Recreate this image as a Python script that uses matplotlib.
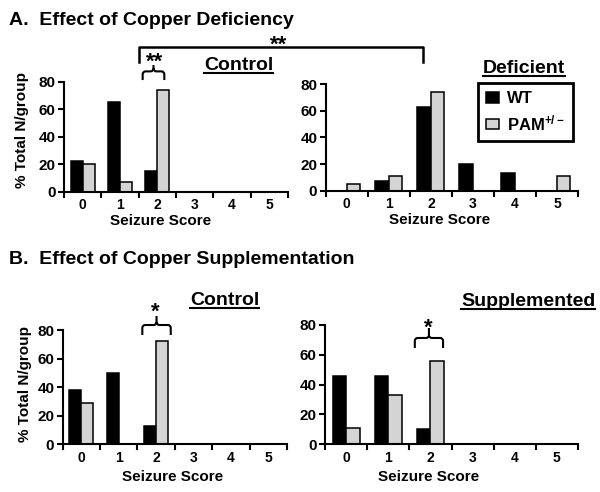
import numpy as np
import matplotlib
matplotlib.use('Agg')
import matplotlib.pyplot as plt
from matplotlib.lines import Line2D
from matplotlib.path import Path
from matplotlib.patches import PathPatch

plt.rcParams['font.family'] = ['Liberation Sans', 'DejaVu Sans']
plt.rcParams['font.weight'] = 'bold'
plt.rcParams['mathtext.fontset'] = 'custom'
plt.rcParams['mathtext.rm'] = 'Liberation Sans:bold'
plt.rcParams['mathtext.bf'] = 'Liberation Sans:bold'
plt.rcParams['mathtext.default'] = 'bf'

scores = [0, 1, 2, 3, 4, 5]
yticks = [0, 20, 40, 60, 80]

# % total N/group
defic_ctrl_wt = [22, 65, 15, 0, 0, 0]
defic_ctrl_pam = [20, 7, 74, 0, 0, 0]
defic_wt = [0, 7, 63, 20, 13, 0]
defic_pam = [5, 11, 74, 0, 0, 11]
supp_ctrl_wt = [38, 50, 13, 0, 0, 0]
supp_ctrl_pam = [29, 0, 72, 0, 0, 0]
supp_wt = [46, 46, 10, 0, 0, 0]
supp_pam = [11, 33, 56, 0, 0, 0]

W, H = 600, 492
GREY = '#d4d4d4'


def fx(px):
    return px / W


def fy(py):
    return 1 - py / H


def barplot(ax, wt, pam, xlab_pos):
    x = np.array(scores)
    w = 0.32
    ax.bar(x - w / 2, wt, w, color='black', edgecolor='black', linewidth=1.1, label='WT')
    ax.bar(x + w / 2, pam, w, color=GREY, edgecolor='black', linewidth=1.1,
           label='PAM$^{+/-}$')
    ax.set_xlim(-0.5, 5.5)
    ax.set_ylim(0, 80)
    ax.set_yticks(yticks)
    ax.set_xticks(np.arange(-0.5, 6, 1))
    ax.set_xticklabels([])
    ax.set_xticks(scores, minor=True)
    ax.set_xticklabels([str(s) for s in scores], minor=True)
    ax.tick_params(axis='x', which='minor', length=0, pad=4.5, labelsize=10)
    ax.tick_params(axis='x', which='major', length=4, width=1.5, direction='out')
    ax.tick_params(axis='y', length=4, width=1.5, pad=2, labelsize=11)
    for s in ['top', 'right']:
        ax.spines[s].set_visible(False)
    for s in ['left', 'bottom']:
        ax.spines[s].set_linewidth(1.5)
    ax.set_xlabel('Seizure Score', fontsize=11, fontweight='bold', va='center')
    ax.xaxis.set_label_coords(*xlab_pos)


def brace(ax, x0, x1, yb, yt, ys):
    bb = ax.get_position()
    rx = 3 / (bb.width * W / 6.0)
    ry = 3 / (bb.height * H / 80.0)
    xc = (x0 + x1) / 2
    M, L, C = Path.MOVETO, Path.LINETO, Path.CURVE3
    verts = [(x0, yb), (x0, yt - ry), (x0, yt), (x0 + rx, yt),
             (xc - rx, yt), (xc, yt), (xc, yt + ry), (xc, ys),
             (x1, yb), (x1, yt - ry), (x1, yt), (x1 - rx, yt),
             (xc + rx, yt), (xc, yt), (xc, yt + ry)]
    codes = [M, L, C, C, L, C, C, L, M, L, C, C, L, C, C]
    ax.add_patch(PathPatch(Path(verts, codes), fill=False, lw=1.5,
                           edgecolor='black', clip_on=False))


fig = plt.figure(figsize=(6, 4.92), dpi=100)

axA1 = fig.add_axes([fx(64), fy(191.7), 224 / W, 110 / H])
axA2 = fig.add_axes([fx(325.7), fy(190.7), 252.3 / W, 106.4 / H])
axB1 = fig.add_axes([fx(62.7), fy(444.3), 224.3 / W, 114.3 / H])
axB2 = fig.add_axes([fx(325), fy(444.3), 253 / W, 119.3 / H])

barplot(axA1, defic_ctrl_wt, defic_ctrl_pam, (0.43, -0.265))
barplot(axA2, defic_wt, defic_pam, (0.45, -0.275))
barplot(axB1, supp_ctrl_wt, supp_ctrl_pam, (0.49, -0.29))
barplot(axB2, supp_wt, supp_pam, (0.41, -0.278))

for ax, pos in [(axA1, (-0.1875, 0.56)), (axB1, (-0.17, 0.53))]:
    ax.set_ylabel('% Total N/group', fontsize=11, fontweight='bold', va='center')
    ax.yaxis.set_label_coords(*pos)

leg = axA2.legend(loc='upper left', bbox_to_anchor=(fx(478), fy(83)),
                  bbox_transform=fig.transFigure, fancybox=False, edgecolor='black',
                  framealpha=1, borderaxespad=0, borderpad=0.5, handlelength=0.75,
                  handleheight=0.6, handletextpad=0.5, labelspacing=0.4,
                  prop={'weight': 'bold', 'size': 12})
leg.get_frame().set_linewidth(2)

# panel titles
fig.text(fx(9), fy(25), 'A.  Effect of Copper Deficiency', fontsize=14, va='baseline')
fig.text(fx(9), fy(264), 'B.  Effect of Copper Supplementation', fontsize=14, va='baseline')

# underlined group headings
renderer = fig.canvas.get_renderer()
for txt, x, y in [('Control', 204, 70), ('Deficient', 483, 73),
                  ('Control', 190, 305), ('Supplemented', 461, 306)]:
    t = fig.text(fx(x), fy(y), txt, fontsize=14, va='baseline')
    bb = t.get_window_extent(renderer)
    fig.add_artist(Line2D([bb.x0 / W, bb.x1 / W], [fy(y + 3), fy(y + 3)],
                          transform=fig.transFigure, color='black', lw=1.5))

# significance marks
brace(axA1, 1.607, 2.187, 81.2, 87.5, 92.1)
axA1.text(1.924, 90, '**', fontsize=16, ha='center', va='baseline', clip_on=False)
brace(axB1, 1.63, 2.39, 76.5, 83.5, 89.8)
axB1.text(1.97, 88.5, '*', fontsize=16, ha='center', va='baseline', clip_on=False)
brace(axB2, 1.63, 2.30, 64.6, 71.3, 78)
axB2.text(1.96, 74.4, '*', fontsize=16, ha='center', va='baseline', clip_on=False)

# bracket across deficiency panels
inv = fig.transFigure.inverted()
xl = inv.transform(axA1.transData.transform((1.52, 0)))[0]
xr = inv.transform(axA2.transData.transform((1.82, 0)))[0]
fig.add_artist(Line2D([xl, xl, xr, xr], [fy(61.7), fy(46.7), fy(46.7), fy(61.7)],
                      transform=fig.transFigure, color='black', lw=1.8))
fig.text((xl + xr) / 2 + fx(-3), fy(50.4), '**', fontsize=16, ha='center', va='baseline')

fig.savefig('out.png', dpi=100)
